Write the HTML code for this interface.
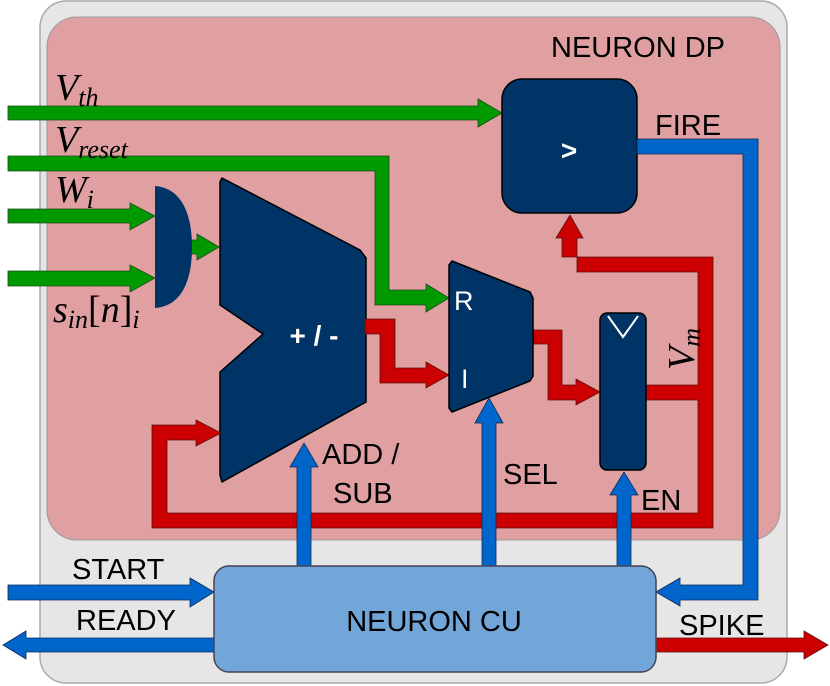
<!DOCTYPE html>
<html><head><meta charset="utf-8"><style>
html,body{margin:0;padding:0;background:#fff;}
svg{display:block;}
.t{font-family:"Liberation Sans",sans-serif;font-size:29px;fill:#000;}
.m{font-family:"Liberation Serif",serif;font-style:italic;fill:#000;}
</style></head><body>
<svg width="830" height="686" viewBox="0 0 830 686" xmlns="http://www.w3.org/2000/svg">
<rect x="40" y="1" width="747" height="682" rx="26" fill="#e6e6e6" stroke="#aaa" stroke-width="1.5"/>
<rect x="47" y="17" width="733" height="523" rx="30" fill="#e0a0a2" stroke="#999" stroke-width="1"/>
<text class="t" x="551" y="57" font-size="28">NEURON DP</text>

<g stroke="#1a4a1a" stroke-width="0.8" fill="#009900">
<polygon points="8,106 478,106 478,99 502,113 478,127 478,120 8,120"/>
<polygon points="8,156 389,156 389,290 426,290 426,284 449,298 426,312 426,305 375,305 375,171 8,171"/>
<polygon points="8,209 130,209 130,203 155,216 130,230 130,223 8,223"/>
<polygon points="8,271 130,271 130,265 155,278 130,292 130,286 8,286"/>
<polygon points="188,240 197,240 197,234 219,247 197,260 197,254 188,254"/>
</g>
<path d="M155,186 C182,188 192,215 192,247 C192,280 182,306 155,308 Z" fill="#003366"/>

<polygon points="222,178 360,250 366,258 366,402 222,482 220,475 220,372 263,334 220,305 220,182" fill="#003366" stroke="#000" stroke-width="1.5" stroke-linejoin="round"/>
<text x="314" y="345" font-family="Liberation Sans,sans-serif" font-weight="bold" font-size="28" fill="#fff" text-anchor="middle">+ / -</text>

<g fill="#cc0000" stroke="#551111" stroke-width="0.8">
<polygon points="365,319 395,319 395,368 426,368 426,362 449,375 426,388 426,383 380,383 380,334 365,334"/>
<polygon points="533,330 562,330 562,385 576,385 576,379 600,392 576,405 576,400 548,400 548,344 533,344"/>
<polygon points="646,385 698,385 698,272 577,272 577,238 583,238 570,215 556,238 562,238 562,257 713,257 713,528 152,528 152,425 196,425 196,420 221,433 196,446 196,440 167,440 167,513 698,513 698,400 646,400"/>
</g>

<rect x="502" y="79" width="135" height="134" rx="20" fill="#003366" stroke="#000" stroke-width="1.5"/>
<text x="569" y="160" font-family="Liberation Sans,sans-serif" font-weight="bold" font-size="28" fill="#fff" text-anchor="middle">&gt;</text>
<text class="t" x="655" y="135">FIRE</text>

<polygon points="452,261 530,292 533,298 533,376 530,381 452,412 449,408 449,265" fill="#003366" stroke="#000" stroke-width="1.5" stroke-linejoin="round"/>
<text x="454" y="310" font-family="Liberation Sans,sans-serif" font-size="27" fill="#fff">R</text>
<text x="461" y="388" font-family="Liberation Sans,sans-serif" font-size="27" fill="#fff">I</text>

<rect x="600" y="313" width="46" height="157" rx="7" fill="#003366" stroke="#000" stroke-width="1.5"/>
<polyline points="608,316 623,337 638,316" fill="none" stroke="#fff" stroke-width="2"/>
<text class="m" font-size="38" transform="translate(694,370) rotate(-90)">V<tspan font-size="26" dy="6">m</tspan></text>

<g fill="#0066cc" stroke="#0a2a55" stroke-width="0.8">
<polygon points="637,139 758,139 758,600 680,600 680,606 656,592 680,578 680,585 743,585 743,154 637,154"/>
<polygon points="297,566 297,467 290,467 304,443 318,467 311,467 311,566"/>
<polygon points="482,566 482,423 475,423 489,398 503,423 496,423 496,566"/>
<polygon points="617,566 617,495 610,495 624,472 638,495 631,495 631,566"/>
<polygon points="8,585 190,585 190,578 214,592 190,607 190,600 8,600"/>
<polygon points="214,638 26,638 26,631 3,645 26,659 26,652 214,652"/>
</g>
<polygon points="656,638 804,638 804,631 828,645 804,659 804,652 656,652" fill="#cc0000" stroke="#551111" stroke-width="0.8"/>

<rect x="214" y="566" width="442" height="106" rx="15" fill="#72a6d8" stroke="#445" stroke-width="1.5"/>
<text class="t" x="434" y="631" text-anchor="middle" font-size="32">NEURON CU</text>

<text class="t" x="72" y="579">START</text>
<text class="t" x="76" y="630">READY</text>
<text class="t" x="679" y="635">SPIKE</text>
<text class="t" x="322" y="464">ADD /</text>
<text class="t" x="333" y="503">SUB</text>
<text class="t" x="503" y="484">SEL</text>
<text class="t" x="641" y="510">EN</text>

<text class="m" x="55" y="100" font-size="38">V<tspan font-size="26" dy="6">th</tspan></text>
<text class="m" x="55" y="152" font-size="38">V<tspan font-size="26" dy="6">reset</tspan></text>
<text class="m" x="55" y="202" font-size="38">W<tspan font-size="26" dy="6">i</tspan></text>
<text class="m" x="53" y="322" font-size="38">s<tspan font-size="26" dy="6">in</tspan><tspan dy="-6" font-style="normal">[</tspan>n<tspan font-style="normal">]</tspan><tspan font-size="26" dy="6">i</tspan></text>
</svg>
</body></html>
